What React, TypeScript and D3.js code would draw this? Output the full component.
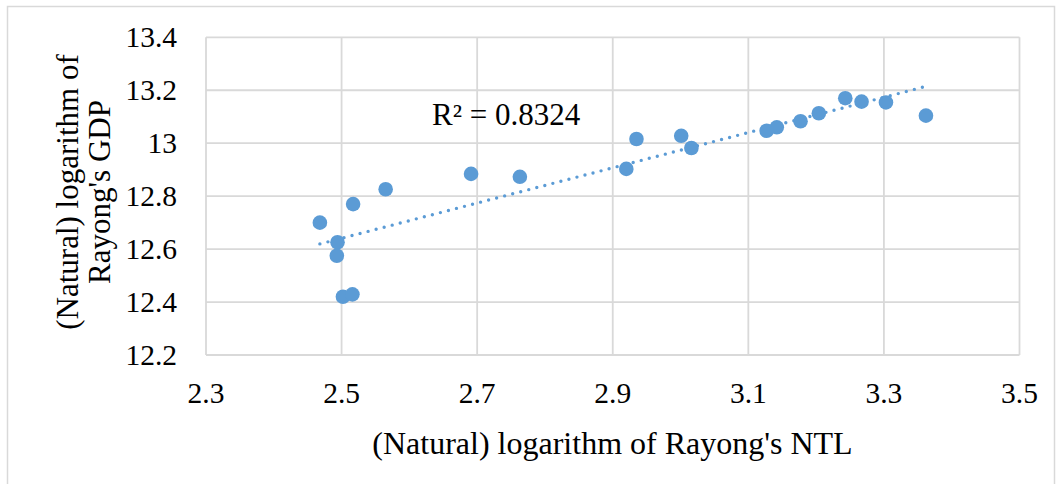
import React from "react";
import * as d3 from "d3";

const ntl = [2.468, 2.494, 2.493, 2.502, 2.516, 2.517, 2.565, 2.691, 2.763, 2.92, 2.935, 3.001, 3.016, 3.127, 3.142, 3.177, 3.204, 3.243, 3.267, 3.303, 3.362];
const gdp = [12.7, 12.626, 12.575, 12.42, 12.429, 12.77, 12.826, 12.884, 12.873, 12.903, 13.016, 13.028, 12.982, 13.047, 13.06, 13.083, 13.113, 13.17, 13.157, 13.154, 13.104];
const xTicks = [2.3, 2.5, 2.7, 2.9, 3.1, 3.3, 3.5];
const yTicks = [12.2, 12.4, 12.6, 12.8, 13, 13.2, 13.4];
const xTitle = "(Natural) logarithm of Rayong's NTL";
const yTitle = ["(Natural) logarithm of", "Rayong's GDP"];
const r2Label = "R² = 0.8324";

const BLUE = "#5B9BD5";
const GRID = "#d9d9d9";
const FONT = "Liberation Serif";

export default function App() {
  const x = d3.scaleLinear().domain([2.3, 3.5]).range([206, 1019.5]);
  const y = d3.scaleLinear().domain([12.2, 13.4]).range([355, 37.3]);

  const pts = ntl.map((v, i) => ({ x: v, y: gdp[i] }));
  const mx = d3.mean(ntl) as number;
  const my = d3.mean(gdp) as number;
  const sxy = d3.sum(pts, (p) => (p.x - mx) * (p.y - my));
  const sxx = d3.sum(pts, (p) => (p.x - mx) ** 2);
  const slope = sxy / sxx;
  const icpt = my - slope * mx;
  const [x0, x1] = d3.extent(ntl) as [number, number];
  const trend = d3.line<number>().x((v) => x(v)).y((v) => y(icpt + slope * v))([x0, x1]) as string;

  const ts = { fontFamily: FONT };

  return (
    <svg width={1062} height={484} style={{ position: "absolute", left: 0, top: 0, background: "#fff" }}>
      <rect x={7.5} y={6.5} width={1047} height={490} fill="#fff" stroke={GRID} strokeWidth={1.5} />
      {yTicks.map((t) => (
        <line key={"gy" + t} x1={x(2.3)} x2={x(3.5)} y1={y(t)} y2={y(t)} stroke={GRID} strokeWidth={1.8} />
      ))}
      {xTicks.map((t) => (
        <line key={"gx" + t} x1={x(t)} x2={x(t)} y1={y(12.2)} y2={y(13.4)} stroke={GRID} strokeWidth={1.8} />
      ))}
      {yTicks.map((t) => (
        <text key={"ty" + t} x={177} y={y(t) + 10} textAnchor="end" fontSize={29.5} fill="#000" style={ts}>
          {String(t)}
        </text>
      ))}
      {xTicks.map((t) => (
        <text key={"tx" + t} x={x(t)} y={403} textAnchor="middle" fontSize={29.5} fill="#000" style={ts}>
          {String(t)}
        </text>
      ))}
      <text x={612.5} y={454} textAnchor="middle" fontSize={32} fill="#000" style={ts}>
        {xTitle}
      </text>
      <text transform="translate(78,192) rotate(-90)" textAnchor="middle" fontSize={31} fill="#000" style={ts}>
        {yTitle[0]}
      </text>
      <text transform="translate(110,192) rotate(-90)" textAnchor="middle" fontSize={31} fill="#000" style={ts}>
        {yTitle[1]}
      </text>
      <path d={trend} fill="none" stroke={BLUE} strokeWidth={3.4} strokeDasharray="0 8.3" strokeLinecap="round" />
      {pts.map((p, i) => (
        <circle key={i} cx={x(p.x)} cy={y(p.y)} r={7.3} fill={BLUE} />
      ))}
      <text x={432} y={125} fontSize={31} fill="#000" style={ts}>
        {r2Label}
      </text>
    </svg>
  );
}
